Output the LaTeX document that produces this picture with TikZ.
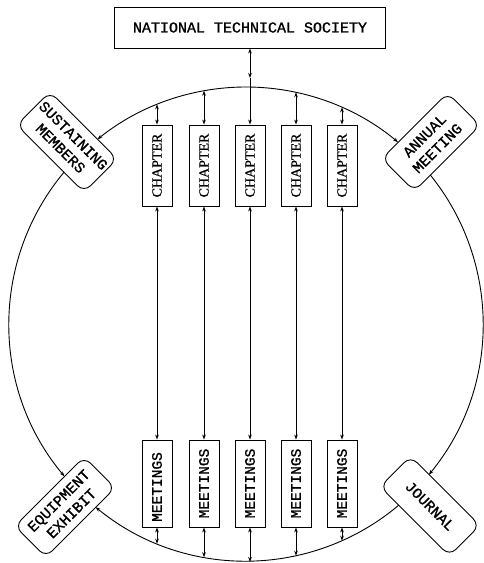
\documentclass[tikz,border=0pt]{standalone}
\usepackage{fontspec}
\usepackage{graphicx}
\newfontfamily\tw[FakeBold=1.2]{Liberation Mono}
\newfontfamily\sr[FakeBold=0.6]{Liberation Serif}
\usetikzlibrary{arrows.meta,calc}
\begin{document}
\begin{tikzpicture}[x=1pt,y=1pt,
  line width=0.85pt,
  >={Stealth[length=5pt,width=3.6pt]},
  sq/.style={draw, line width=0.9pt, inner sep=0pt, minimum width=30pt},
  chap/.style={sq, minimum height=81pt, font=\sr\fontsize{14}{14}\selectfont},
  meet/.style={sq, minimum height=87pt, font=\tw\fontsize{14.5}{14.5}\selectfont},
  rbox/.style={draw, line width=0.9pt, rounded corners=9pt, inner sep=0pt, align=center, font=\tw\fontsize{15}{18}\selectfont},
  conn/.style={<->},
  ring/.style={line width=0.9pt}
]
\useasboundingbox (0,0) rectangle (484,563);
\coordinate (C) at (246,239);

\node[draw, line width=0.9pt, minimum width=271pt, minimum height=41pt, font=\tw\fontsize{15}{15}\selectfont] (soc) at (250,535.5) {NATIONAL TECHNICAL SOCIETY};

\foreach \i/\x in {1/157,2/204,3/250,4/296,5/342} {
  \node[chap] (ch\i) at (\x,397.5) {\rotatebox{90}{CHAPTER}};
  \node[meet] (mt\i) at (\x,79.5) {};
}
\node[font=\tw\fontsize{14.5}{14.5}\selectfont, inner sep=0pt] (mtx1) at (157,76) {\rotatebox{90}{MEETINGS}};
\foreach \i/\x in {2/204,3/250,4/296,5/342} {
  \node[font=\tw\fontsize{14.5}{14.5}\selectfont, inner sep=0pt] (mtx\i) at (\x,79.5) {\rotatebox{90}{MEETINGS}};
}

% points on the ring above and below the boxes
\coordinate (t1) at (157,458.65);
\coordinate (t2) at (204,472.25);
\coordinate (t3) at (250,475.97);
\coordinate (t4) at (296,470.67);
\coordinate (t5) at (342,455.69);
\coordinate (b1) at (157,19.35);
\coordinate (b2) at (204,5.75);
\coordinate (b3) at (250,1.0);
\coordinate (b4) at (296,7.33);
\coordinate (b5) at (342,22.31);
\coordinate (m3) at (250,485);

\draw[conn] (soc.south) -- (m3);
\draw[->] (m3) -- (ch3.north);
\foreach \i in {1,2,4,5} { \draw[conn] (t\i) -- (ch\i.north); }
\foreach \i in {1,...,5} {
  \draw[conn] (ch\i.south) -- (mt\i.north);
  \draw[conn] (mt\i.south) -- (b\i);
}

% corner boxes
\node[rbox, rotate=-45, minimum width=95pt, minimum height=47pt] (sus) at (67,421) {SUSTAINING\\MEMBERS};
\node[rbox, rotate=45, minimum width=93pt, minimum height=46pt] (ann) at (431,421) {ANNUAL\\MEETING};
\node[rbox, rotate=45, minimum width=98pt, minimum height=44pt] (eqp) at (65,56) {EQUIPMENT\\EXHIBIT};
\node[rbox, rotate=-45, minimum width=98pt, minimum height=43pt] (jou) at (430,57) {JOURNAL};

% ring arcs
\coordinate (rtop) at ($(C)+(90:237pt)$);
\coordinate (rsus) at ($(C)+(140.2:237pt)$);
\coordinate (rann) at ($(C)+(38.96:237pt)$);
\coordinate (rjou) at ($(C)+(310.1:237pt)$);
\draw[ring,->] (rtop) arc[start angle=90, end angle=128.8, radius=237pt];
\draw[ring,->] (rsus) arc[start angle=140.2, end angle=220, radius=237pt];
\draw[ring,->] (rjou) arc[start angle=310.1, end angle=230.6, radius=237pt];
\draw[ring,->] (rtop) arc[start angle=90, end angle=50.1, radius=237pt];
\draw[ring,->] (rann) arc[start angle=38.96, end angle=-39.5, radius=237pt];
\end{tikzpicture}
\end{document}
